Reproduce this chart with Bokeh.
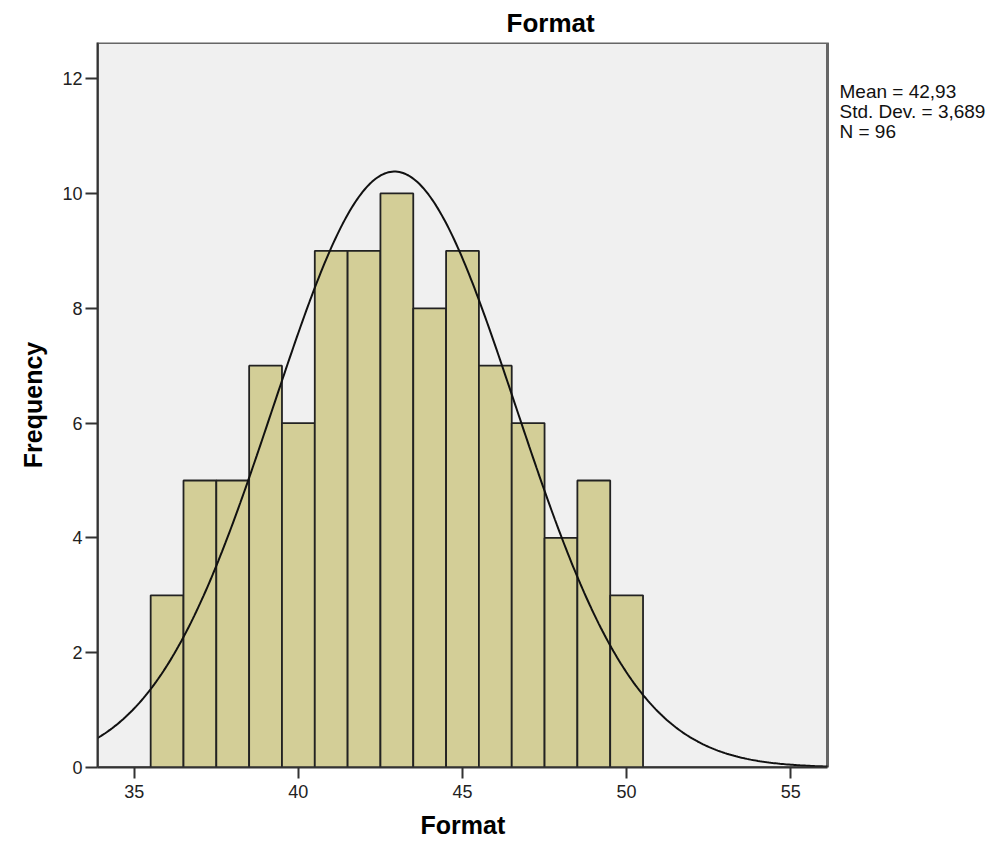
import numpy as np
from bokeh.plotting import figure
from bokeh.models import Range1d, FixedTicker, Label, ColumnDataSource, Title
from bokeh.embed import file_html
from bokeh.resources import INLINE

# ---- data ----
bin_centers = [36, 37, 38, 39, 40, 41, 42, 43, 44, 45, 46, 47, 48, 49, 50]
frequencies = [3, 5, 5, 7, 6, 9, 9, 10, 8, 9, 7, 6, 4, 5, 3]
bin_width = 1.0
mean_value = 42.93
std_dev = 3.689
n_total = 96
x_ticks = [35, 40, 45, 50, 55]
y_ticks = [0, 2, 4, 6, 8, 10, 12]
stats_lines = ["Mean = 42,93", "Std. Dev. = 3,689", "N = 96"]

FONT = "Liberation Sans"

# visible plotting area (data units)
x_lo, x_hi = 33.88, 56.12
y_lo, y_hi = 0, 12.63
frame_px_w = 730.0
px_per_x = frame_px_w / (x_hi - x_lo)
px_per_y = 725.0 / (y_hi - y_lo)

# the canvas frame extends to the right edge so the statistics text can be shown
canvas_frame_w = 1007 - 97
x_ext = x_lo + canvas_frame_w / px_per_x

p = figure(width=1007, height=849, output_backend="svg", toolbar_location=None,
           x_range=Range1d(x_lo, x_ext), y_range=Range1d(y_lo, y_hi),
           min_border_left=97, min_border_right=0, min_border_top=42, min_border_bottom=82,
           title="Format")

p.background_fill_color = "white"
p.border_fill_color = "white"
p.grid.visible = False
p.outline_line_color = None

# title
p.title.text_font = FONT
p.title.text_font_size = "26px"
p.title.text_font_style = "bold"
p.title.text_color = "black"
p.title.align = "left"
p.title.offset = 409
p.title.standoff = 9

# plot background panel with border
p.quad(left=[x_lo], right=[x_hi], bottom=[y_lo], top=[y_hi],
       fill_color="#F0F0F0", line_color="#666666", line_width=3)

# bars
src = ColumnDataSource(dict(x=bin_centers, top=frequencies))
p.vbar(x="x", top="top", width=bin_width, bottom=0, source=src,
       fill_color="#D3CE97", line_color="#222222", line_width=1.8)

# normal curve from the stated mean / sd / N
xs = np.linspace(x_lo, x_hi, 400)
ys = n_total * bin_width * np.exp(-0.5 * ((xs - mean_value) / std_dev) ** 2) / (std_dev * np.sqrt(2 * np.pi))
p.line(xs, ys, line_color="#111111", line_width=2)

# axes
for ax in (p.xaxis[0], p.yaxis[0]):
    ax.axis_line_color = "#333333"
    ax.axis_line_width = 2
    ax.major_tick_line_color = "#333333"
    ax.major_tick_line_width = 2
    ax.major_tick_in = 0
    ax.minor_tick_line_color = None
    ax.major_label_text_font = FONT
    ax.major_label_text_font_size = "18px"
    ax.major_label_text_color = "#222222"
    ax.axis_label_text_font = FONT
    ax.axis_label_text_font_size = "25px"
    ax.axis_label_text_font_style = "bold"
    ax.axis_label_text_color = "black"

p.xaxis[0].bounds = (x_lo, x_hi)
p.xaxis[0].ticker = FixedTicker(ticks=x_ticks)
p.yaxis[0].ticker = FixedTicker(ticks=y_ticks)
p.xaxis[0].major_tick_out = 11
p.yaxis[0].major_tick_out = 12
p.xaxis[0].major_label_standoff = 6
p.yaxis[0].major_label_standoff = 3
p.yaxis[0].axis_label = "Frequency"
p.yaxis[0].axis_label_standoff = 12

# x-axis title, centred under the panel (not the extended canvas frame)
xlab = Title(text="Format", align="left", offset=323, standoff=17,
             text_font=FONT, text_font_size="25px", text_font_style="bold",
             text_color="black", text_line_height=1.0)
p.add_layout(xlab, "below")

# statistics text to the right of the panel
x_txt = x_hi + 12.0 / px_per_x
for i, line in enumerate(stats_lines):
    y_txt = y_hi - (49.0 + 20.0 * i) / px_per_y
    p.add_layout(Label(x=x_txt, y=y_txt, text=line, text_font=FONT,
                       text_font_size="19px", text_color="#111111",
                       text_align="left", text_baseline="middle"))

open("out.html", "w").write(file_html(p, INLINE))
